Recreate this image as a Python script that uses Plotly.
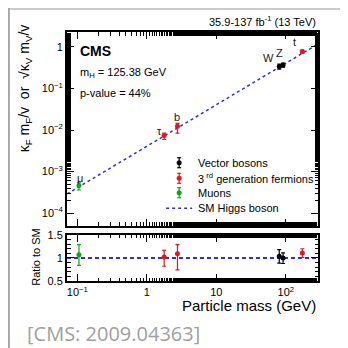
import plotly.graph_objects as go
import math

# ---- data ----
boson_names = ["W", "Z"]
boson_mass = [80.38, 91.19]
boson_val = [0.340, 0.370]
boson_up = [0.046, 0.041]
boson_dn = [0.049, 0.044]
boson_ratio = [1.04, 1.00]
boson_ratio_up = [0.14, 0.11]
boson_ratio_dn = [0.15, 0.12]

ferm_names = ["τ", "b", "t"]
ferm_mass = [1.777, 2.76, 172.76]
ferm_val = [0.00736, 0.0123, 0.78]
ferm_up = [0.00105, 0.0022, 0.063]
ferm_dn = [0.00144, 0.0039, 0.070]
ferm_ratio = [1.02, 1.09, 1.11]
ferm_ratio_up = [0.145, 0.20, 0.09]
ferm_ratio_dn = [0.20, 0.35, 0.10]

muon_names = ["μ"]
muon_mass = [0.1057]
muon_val = [0.000459]
muon_up = [0.000094]
muon_dn = [0.000099]
muon_ratio = [1.07]
muon_ratio_up = [0.22]
muon_ratio_dn = [0.23]

sm_mass = [0.0711, 290.0]
sm_val = [0.000289, 1.178]
sm_ratio = [1.0, 1.0]

legend_names = ["Vector bosons", "3<sup> rd</sup> generation fermions", "Muons", "SM Higgs boson"]

x_tickvals = [0.1, 1, 10, 100]
x_ticktext = ["10<sup>−1</sup>", "1", "10", "10<sup>2</sup>"]
y_tickvals = [1e-4, 1e-3, 1e-2, 1e-1, 1]
y_ticktext = ["10<sup>−4</sup>", "10<sup>−3</sup>", "10<sup>−2</sup>", "10<sup>−1</sup>", "1"]
r_tickvals = [0.5, 1, 1.5]
r_ticktext = ["0.5", "1", "1.5"]

BLACK = "#000000"
RED = "#e8141b"
GREEN = "#17a317"
BLUE = "#2b2bff"
FONT = "Liberation Sans, Arial, sans-serif"

fig = go.Figure()

fig.add_trace(go.Scatter(x=sm_mass, y=sm_val, mode="lines", name="SM Higgs boson",
                         line=dict(color=BLUE, width=1.5, dash="3px,3px"),
                         xaxis="x", yaxis="y", showlegend=False))
fig.add_trace(go.Scatter(x=sm_mass, y=sm_ratio, mode="lines", showlegend=False,
                         line=dict(color=BLUE, width=2, dash="4px,3px"),
                         xaxis="x2", yaxis="y2"))

def add_series(mass, val, up, dn, ratio, rup, rdn, color, name):
    fig.add_trace(go.Scatter(
        x=mass, y=val, mode="markers", name=name,
        marker=dict(color=color, size=5, symbol="circle"),
        error_y=dict(type="data", symmetric=False, array=up, arrayminus=dn,
                     color=color, thickness=1.2, width=2),
        xaxis="x", yaxis="y", showlegend=False))
    fig.add_trace(go.Scatter(
        x=mass, y=ratio, mode="markers", name=name,
        marker=dict(color=color, size=5, symbol="circle"),
        error_y=dict(type="data", symmetric=False, array=rup, arrayminus=rdn,
                     color=color, thickness=1.2, width=2),
        xaxis="x2", yaxis="y2", showlegend=False))

add_series(boson_mass, boson_val, boson_up, boson_dn, boson_ratio, boson_ratio_up, boson_ratio_dn, BLACK, legend_names[0])
add_series(ferm_mass, ferm_val, ferm_up, ferm_dn, ferm_ratio, ferm_ratio_up, ferm_ratio_dn, RED, legend_names[1])
add_series(muon_mass, muon_val, muon_up, muon_dn, muon_ratio, muon_ratio_up, muon_ratio_dn, GREEN, legend_names[2])

common_axis = dict(showline=True, linecolor="black", linewidth=2, mirror="allticks",
                   ticks="inside", ticklen=7, tickwidth=1, tickcolor="black",
                   showgrid=False, zeroline=False, automargin=False,
                   tickfont=dict(family=FONT, size=11, color="black"))

xr = [math.log10(0.0711), math.log10(290.0)]
fig.update_layout(
    width=340, height=340,
    margin=dict(l=58.7, r=30, t=24, b=67, autoexpand=False),
    paper_bgcolor="white", plot_bgcolor="white",
    font=dict(family=FONT, size=11, color="black"),
    showlegend=False,
    xaxis=dict(type="log", range=xr, domain=[0, 1], anchor="y", matches="x2",
               tickvals=x_tickvals, ticktext=["", "", "", ""],
               minor=dict(ticks="inside", ticklen=3.5, tickcolor="black", showgrid=False),
               **common_axis),
    yaxis=dict(type="log", range=[-4.31, 0.36], domain=[0.221, 1], anchor="x",
               tickvals=y_tickvals, ticktext=y_ticktext,
               minor=dict(ticks="inside", ticklen=3.5, tickcolor="black", showgrid=False),
               **common_axis),
    xaxis2=dict(type="log", range=xr, domain=[0, 1], anchor="y2",
                tickvals=x_tickvals, ticktext=x_ticktext,
                minor=dict(ticks="inside", ticklen=3.5, tickcolor="black", showgrid=False),
                **common_axis),
    yaxis2=dict(range=[0.5, 1.5], domain=[0, 0.185], anchor="x2",
                tickvals=r_tickvals, ticktext=r_ticktext,
                minor=dict(ticks="inside", ticklen=3.5, dtick=0.1, tickcolor="black", showgrid=False),
                **common_axis),
)

annotations = []
def label(names, mass, val, dx, dy):
    for n, m, v, sx, sy in zip(names, mass, val, dx, dy):
        annotations.append(dict(x=math.log10(m), y=math.log10(v), xref="x", yref="y",
                                text=n, showarrow=False, xshift=sx, yshift=sy,
                                font=dict(family=FONT, size=11, color="#222")))
label(boson_names, boson_mass, boson_val, [-11, -4], [8, 12])
label(ferm_names, ferm_mass, ferm_val, [-5, 0, -8], [5, 9, 9])
label(muon_names, muon_mass, muon_val, [1], [8])

annotations += [
    # axis titles
    dict(x=-0.166, y=0.775, xref="paper", yref="paper", textangle=-90,
         text="κ<sub>F</sub> m<sub>F</sub>/v  or  √κ<sub>V</sub> m<sub>V</sub>/v",
         showarrow=False, xanchor="center", yanchor="middle",
         font=dict(family=FONT, size=14, color="black")),
    dict(x=-0.122, y=0.095, xref="paper", yref="paper", textangle=-90,
         text="Ratio to SM", showarrow=False, xanchor="center", yanchor="middle",
         font=dict(family=FONT, size=11, color="black")),
    dict(x=1.0, y=-0.1004, xref="paper", yref="paper", text="Particle mass (GeV)",
         showarrow=False, xanchor="right", yanchor="middle",
         font=dict(family=FONT, size=15, color="black")),
    # text in plot
    dict(x=0.045, y=0.925, xref="paper", yref="paper", text="<b>CMS</b>", showarrow=False,
         xanchor="left", yanchor="middle", font=dict(family=FONT, size=14, color="black")),
    dict(x=0.045, y=0.835, xref="paper", yref="paper", text="m<sub>H</sub> = 125.38 GeV",
         showarrow=False, xanchor="left", yanchor="middle", font=dict(family=FONT, size=11)),
    dict(x=0.045, y=0.755, xref="paper", yref="paper", text="p-value = 44%",
         showarrow=False, xanchor="left", yanchor="middle", font=dict(family=FONT, size=11)),
    dict(x=1.0, y=1.0, xref="paper", yref="paper", yshift=2,
         text="35.9-137 fb<sup>-1</sup> (13 TeV)", showarrow=False,
         xanchor="right", yanchor="bottom", font=dict(family=FONT, size=11)),
    dict(x=-0.166, y=-0.209, xref="paper", yref="paper", text="[CMS: 2009.04363]",
         showarrow=False, xanchor="left", yanchor="middle",
         font=dict(family="Open Sans, Arial, sans-serif", size=20, color="#a0a0a0")),
]

# custom legend (icons as shapes, labels as annotations)
shapes = []
leg_rows = [0.475, 0.4124, 0.3546, 0.292]
leg_colors = [BLACK, RED, GREEN]
icon_x = 0.4469
text_x = 0.5145
for yy, col in zip(leg_rows[:3], leg_colors):
    shapes.append(dict(type="line", xref="paper", yref="paper", xsizemode="pixel", ysizemode="pixel",
                       xanchor=icon_x, yanchor=yy, x0=0, x1=0, y0=-5, y1=5,
                       line=dict(color=col, width=1.2)))
    for cy in (-5, 5):
        shapes.append(dict(type="line", xref="paper", yref="paper", xsizemode="pixel", ysizemode="pixel",
                           xanchor=icon_x, yanchor=yy, x0=-2, x1=2, y0=cy, y1=cy,
                           line=dict(color=col, width=1.2)))
    shapes.append(dict(type="circle", xref="paper", yref="paper", xsizemode="pixel", ysizemode="pixel",
                       xanchor=icon_x, yanchor=yy, x0=-2.5, x1=2.5, y0=-2.5, y1=2.5,
                       fillcolor=col, line=dict(color=col, width=0)))
shapes.append(dict(type="line", xref="paper", yref="paper", x0=0.395, x1=0.4986,
                   y0=leg_rows[3], y1=leg_rows[3], line=dict(color=BLUE, width=1.5, dash="3px,3px")))
for yy, name in zip(leg_rows, legend_names):
    annotations.append(dict(x=text_x, y=yy, xref="paper", yref="paper", text=name,
                            showarrow=False, xanchor="left", yanchor="middle",
                            font=dict(family=FONT, size=11, color="black")))

# card border (top and left), at the very edge of the figure
shapes.append(dict(type="line", xref="paper", yref="paper", x0=-0.2316, x1=1.2, y0=1.092, y1=1.092,
                   line=dict(color="#cccccc", width=2)))
shapes.append(dict(type="line", xref="paper", yref="paper", x0=-0.2316, x1=-0.2316, y0=1.096, y1=-0.3,
                   line=dict(color="#a6a6a6", width=2)))

fig.update_layout(annotations=annotations, shapes=shapes)

fig.write_html("out.html")
